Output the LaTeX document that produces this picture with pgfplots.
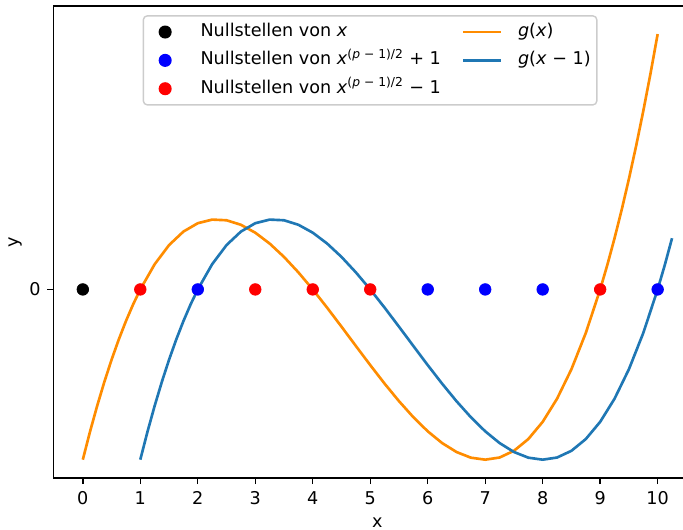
\documentclass[border=0pt]{standalone}
\usepackage{fontspec}
\setmainfont{DejaVu Sans}
\usepackage{pgfplots}
\pgfplotsset{compat=1.18}
\definecolor{dotblue}{RGB}{0,0,255}
\definecolor{dotred}{RGB}{255,0,0}
\definecolor{lineorange}{RGB}{255,140,0}
\definecolor{lineblue}{RGB}{31,119,180}
\definecolor{frameg}{RGB}{204,204,204}

% g(x) sampled
\pgfplotstableread{
x y
0 -36
0.125 -30.092
0.25 -24.609
0.375 -19.541
0.5 -14.875
0.625 -10.600
0.75 -6.703
0.875 -3.174
1 0
1.25 5.328
1.5 9.375
1.75 12.234
2 14
2.25 14.766
2.5 14.625
2.75 13.672
3 12
3.25 9.703
3.5 6.875
3.75 3.609
4 0
4.25 -3.859
4.5 -7.875
4.75 -11.953
5 -16
5.25 -19.922
5.5 -23.625
5.75 -27.016
6 -30
6.25 -32.484
6.5 -34.375
6.75 -35.578
7 -36
7.25 -35.547
7.5 -34.125
7.75 -31.641
8 -28
8.25 -23.109
8.5 -16.875
8.75 -9.203
9 0
9.125 5.205
9.25 10.828
9.375 16.881
9.5 23.375
9.625 30.322
9.75 37.734
9.875 45.623
10 54
}\gtable

% g(x-1) sampled
\pgfplotstableread{
x y
1 -36
1.125 -30.092
1.25 -24.609
1.375 -19.541
1.5 -14.875
1.625 -10.600
1.75 -6.703
1.875 -3.174
2 0
2.25 5.328
2.5 9.375
2.75 12.234
3 14
3.25 14.766
3.5 14.625
3.75 13.672
4 12
4.25 9.703
4.5 6.875
4.75 3.609
5 0
5.25 -3.859
5.5 -7.875
5.75 -11.953
6 -16
6.25 -19.922
6.5 -23.625
6.75 -27.016
7 -30
7.25 -32.484
7.5 -34.375
7.75 -35.578
8 -36
8.25 -35.547
8.5 -34.125
8.75 -31.641
9 -28
9.25 -23.109
9.5 -16.875
9.75 -9.203
10 0
10.125 5.205
10.25 10.828
}\gshift

\begin{document}
\begin{tikzpicture}
\begin{axis}[
  name=ax,
  scale only axis,
  width=368.1pt, height=267.9pt,
  xmin=-0.5125, xmax=10.7625, ymin=-39.85, ymax=59.9,
  xtick={0,1,2,3,4,5,6,7,8,9,10}, ytick={0},
  tick pos=left,
  tick align=outside, major tick length=3.5pt,
  every tick/.style={black, line width=0.8pt},
  axis line style={line width=0.8pt},
  /pgf/number format/assume math mode=true,
  xticklabel style={anchor=base, inner sep=0pt, yshift=-11.4pt},
  yticklabel style={anchor=east, inner xsep=3.5pt},
  xlabel={x}, ylabel={y},
  xlabel style={at={(axis description cs:0.5,-0.1045)}, anchor=base},
  ylabel style={at={(axis description cs:-0.0538,0.5)}, anchor=base},
  legend columns=2,
  legend cell align=left,
  legend style={at={(0.4887,0.981)}, anchor=north,
    draw=frameg, line width=0.8pt, rounded corners=2.3pt, fill=white,
    inner xsep=3.5pt, inner ysep=4.2pt,
    row sep=6.1pt,
    nodes={inner sep=0pt, text height=7.5pt, text depth=2.5pt},
    /tikz/every odd column/.append style={column sep=9.7pt},
    /tikz/every even column/.append style={column sep=12.6pt}},
]
\addplot[only marks, mark=*, mark size=3.3pt, black, forget plot] coordinates {(0,0)};
\addplot[only marks, mark=*, mark size=3.3pt, dotblue, forget plot] coordinates {(2,0)(6,0)(7,0)(8,0)(10,0)};
\addplot[only marks, mark=*, mark size=3.3pt, dotred, forget plot] coordinates {(1,0)(3,0)(4,0)(5,0)(9,0)};
\addplot[lineorange, line width=1.5pt, forget plot] table {\gtable};
\addplot[lineblue, line width=1.5pt, forget plot] table {\gshift};

\addlegendimage{legend image code/.code={\path (1.5pt,0pt) (20pt,0pt); \fill[black] (10pt,0pt) circle (3.3pt);}}
\addlegendentry{Nullstellen von \textit{x}}
\addlegendimage{legend image code/.code={\draw[lineorange, line width=1.5pt, line cap=rect] (0pt,0pt) -- (20pt,0pt);}}
\addlegendentry{\textit{g}(\textit{x})}
\addlegendimage{legend image code/.code={\path (1.5pt,0pt) (20pt,0pt); \fill[dotblue] (10pt,0pt) circle (3.3pt);}}
\addlegendentry{Nullstellen von \textit{x}\textsuperscript{(\textit{p} − 1)/2} + 1}
\addlegendimage{legend image code/.code={\draw[lineblue, line width=1.5pt, line cap=rect] (0pt,0pt) -- (20pt,0pt);}}
\addlegendentry{\textit{g}(\textit{x} − 1)}
\addlegendimage{legend image code/.code={\path (1.5pt,0pt) (20pt,0pt); \fill[dotred] (10pt,0pt) circle (3.3pt);}}
\addlegendentry{Nullstellen von \textit{x}\textsuperscript{(\textit{p} − 1)/2} − 1}
\end{axis}
\pgfresetboundingbox
\path (ax.south west) ++(-30.3pt,-29.1pt) rectangle ++(387.9pt,300.5pt);
\end{tikzpicture}
\end{document}
